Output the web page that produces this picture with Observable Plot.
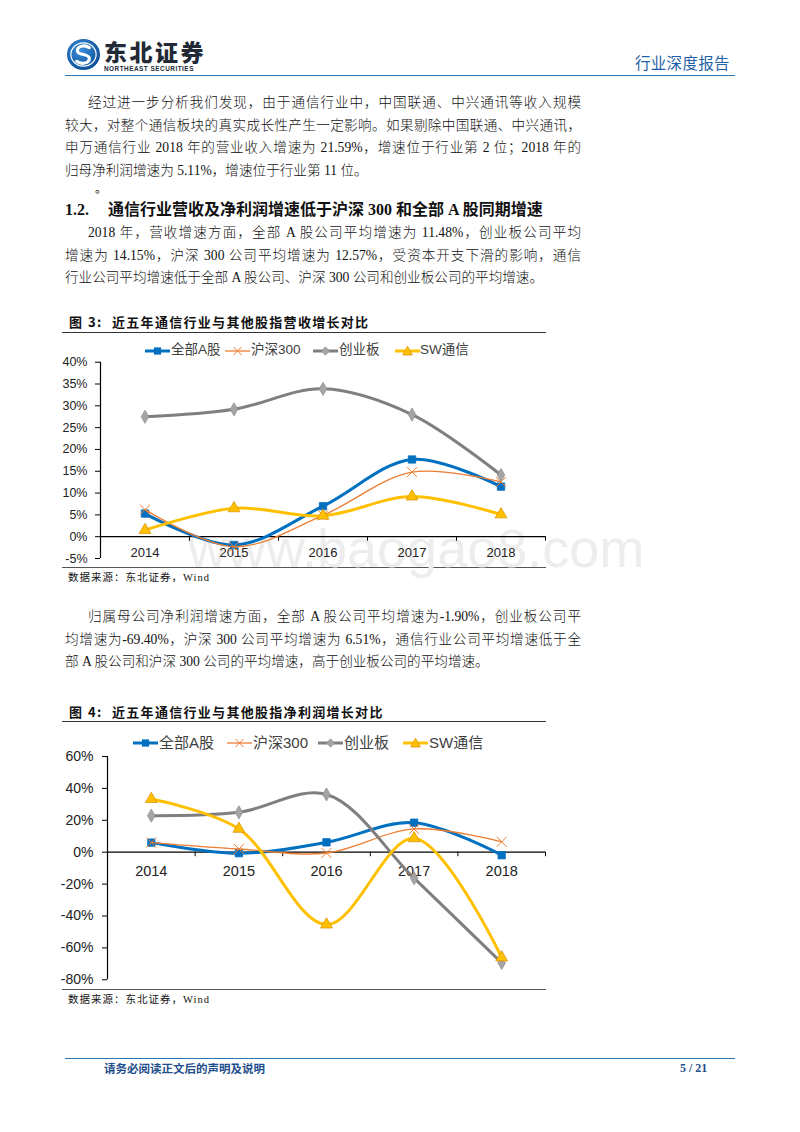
<!DOCTYPE html>
<html>
<head>
<meta charset="utf-8">
<script src="https://cdn.jsdelivr.net/npm/d3@7"></script>
<script src="https://cdn.jsdelivr.net/npm/@observablehq/plot@0.6"></script>
<style>
  html, body { margin: 0; padding: 0; background: #fff; }
  #page { position: relative; width: 800px; height: 1132px; overflow: hidden; background: #fff;
          font-family: "Liberation Serif", "Noto Sans CJK SC", serif; color: #111; }
  .abs { position: absolute; white-space: nowrap; }
  .line { position: absolute; font-size: 13.6px; line-height: 22px; height: 22px; white-space: nowrap; font-weight: 300; }
  .just { text-align: justify; text-align-last: justify; white-space: normal; overflow: hidden; }
  .figt { position: absolute; font-size: 13px; font-weight: bold; letter-spacing: 1.3px; line-height: 16px;
          font-family: "Noto Sans CJK SC", sans-serif; white-space: nowrap; }
  .cap { position: absolute; font-size: 10.5px; letter-spacing: 1px; line-height: 14px; white-space: nowrap;
         font-family: "Liberation Serif", "Noto Sans CJK SC", serif; }
  .rule { position: absolute; height: 0; }
  .leg { position: absolute; font-family: "Liberation Sans", "Noto Sans CJK SC", sans-serif; color: #404040; white-space: nowrap; }
  .chart { position: absolute; z-index: 2; }
  .wm { position: absolute; z-index: 1; font-family: "Liberation Sans", sans-serif; color: #ededed; font-size: 54px; white-space: nowrap; }
</style>
</head>
<body>
<div id="page"></div>
<script>
// ---------------- data ----------------
const years = ["2014", "2015", "2016", "2017", "2018"];
const seriesNames = ["全部A股", "沪深300", "创业板", "SW通信"];

// 图3: 营收增速 (%)
const revAll   = [5.3, -1.9, 7.0, 17.7, 11.48];
const revHS300 = [6.2, -2.3, 4.9, 14.8, 12.57];
const revGEM   = [27.5, 29.2, 33.9, 28.0, 14.15];
const revSW    = [1.5, 6.5, 4.8, 9.2, 5.1];
const revTicks = [-5, 0, 5, 10, 15, 20, 25, 30, 35, 40];

// 图4: 净利润增速 (%)
const profAll   = [6.0, -0.6, 6.2, 18.5, -1.9];
const profHS300 = [6.0, 2.0, -0.5, 14.6, 6.51];
const profGEM   = [22.9, 25.0, 36.2, -16.3, -69.4];
const profSW    = [33.3, 14.6, -45.4, 8.7, -66.0];
const profTicks = [-80, -60, -40, -20, 0, 20, 40, 60];

// ---------------- styles ----------------
const seriesStyle = [
  {stroke: "#0070C0", width: 3,   symbol: "square",  r: 4.2, fill: "#0070C0", mstroke: "#0070C0"},
  {stroke: "#ED7D31", width: 1.3, symbol: "times",   r: 4.6, fill: "none",    mstroke: "#ED7D31"},
  {stroke: "#7F7F7F", width: 3,   symbol: "diamond", r: 4.0, fill: "#A5A5A5", mstroke: "#8C8C8C"},
  {stroke: "#FFC000", width: 3,   symbol: "triangle",r: 4.4, fill: "#FFC000", mstroke: "#D98E00"}
];

const page = document.getElementById("page");
function add(html) { page.insertAdjacentHTML("beforeend", html); }

// ---------------- header ----------------
add(`<svg class="abs" style="left:66px;top:38px" width="35" height="33" viewBox="0 0 36 34">
  <defs><radialGradient id="lg" cx="40%" cy="35%" r="70%"><stop offset="0" stop-color="#3b8fd9"/><stop offset="1" stop-color="#0b4c96"/></radialGradient></defs>
  <ellipse cx="18" cy="17" rx="17" ry="16" fill="url(#lg)"/>
  <ellipse cx="18" cy="17" rx="13" ry="12" fill="none" stroke="#fff" stroke-width="1.2"/>
  <path d="M24 10 C 19 6, 10 9, 12 14 C 13 18, 24 16, 24 21 C 24 26, 16 28, 11 24" stroke="#fff" stroke-width="3.2" fill="none" stroke-linecap="round"/>
</svg>`);
add(`<div class="abs" style="left:104px;top:38px;font-family:'Noto Sans CJK SC',sans-serif;font-weight:900;font-size:23px;letter-spacing:2.5px;line-height:26px;color:#222a36">东北证券</div>`);
add(`<div class="abs" style="left:104px;top:65px;font-family:'Liberation Sans',sans-serif;font-weight:bold;font-size:6.4px;letter-spacing:0.5px;line-height:7px;color:#222a36">NORTHEAST SECURITIES</div>`);
add(`<div class="abs" style="left:635px;top:52px;font-family:'Noto Sans CJK SC',sans-serif;font-size:15.5px;line-height:20px;color:#1F5FA8;letter-spacing:0.3px">行业深度报告</div>`);
add(`<div class="rule" style="left:65px;top:75px;width:670px;border-top:1.6px solid #2E75B6"></div>`);

// ---------------- body text ----------------
function line(text, y, left, right, justify) {
  const w = right - left;
  add(`<div class="line${justify ? " just" : ""}" style="left:${left}px;top:${y - 11}px;width:${w}px">${text}</div>`);
}
line("经过进一步分析我们发现，由于通信行业中，中国联通、中兴通讯等收入规模", 103, 88, 581, true);
line("较大，对整个通信板块的真实成长性产生一定影响。如果剔除中国联通、中兴通讯，", 125.5, 65, 581, true);
line("申万通信行业 2018 年的营业收入增速为 21.59%，增速位于行业第 2 位；2018 年的", 148, 65, 581, true);
line("归母净利润增速为 5.11%，增速位于行业第 11 位。", 170.5, 65, 581, false);
add(`<div class="abs" style="left:95px;top:181px;font-size:12px;line-height:14px;font-family:'Noto Sans CJK SC'">。</div>`);

add(`<div class="abs" style="left:65px;top:200px;font-size:16px;font-weight:bold;line-height:20px;font-family:'Liberation Serif',serif">1.2.</div>`);
add(`<div class="abs" style="left:108px;top:200px;font-size:16px;font-weight:bold;line-height:20px;font-family:'Liberation Serif','Noto Sans CJK SC',serif">通信行业营收及净利润增速低于沪深 300 和全部 A 股同期增速</div>`);

line("2018 年，营收增速方面，全部 A 股公司平均增速为 11.48%，创业板公司平均", 233, 88, 581, true);
line("增速为 14.15%，沪深 300 公司平均增速为 12.57%，受资本开支下滑的影响，通信", 255.5, 65, 581, true);
line("行业公司平均增速低于全部 A 股公司、沪深 300 公司和创业板公司的平均增速。", 278, 65, 581, false);

line("归属母公司净利润增速方面，全部 A 股公司平均增速为-1.90%，创业板公司平", 617, 88, 581, true);
line("均增速为-69.40%，沪深 300 公司平均增速为 6.51%，通信行业公司平均增速低于全", 639.5, 65, 581, true);
line("部 A 股公司和沪深 300 公司的平均增速，高于创业板公司的平均增速。", 662, 65, 581, false);

// ---------------- figure frames ----------------
function figFrame(num, title, titleY, topRuleY, bottomRuleY, capY) {
  add(`<div class="figt" style="left:69px;top:${titleY - 8}px">图</div>`);
  add(`<div class="figt" style="left:88px;top:${titleY - 8}px">${num}:</div>`);
  add(`<div class="figt" style="left:112px;top:${titleY - 8}px">${title}</div>`);
  add(`<div class="rule" style="left:62px;top:${topRuleY}px;width:484px;border-top:1.2px solid #333"></div>`);
  add(`<div class="rule" style="left:62px;top:${bottomRuleY}px;width:484px;border-top:1.2px solid #555"></div>`);
  add(`<div class="cap" style="left:68px;top:${capY - 7}px">数据来源：东北证券，Wind</div>`);
}
figFrame(3, "近五年通信行业与其他股指营收增长对比", 322, 331.5, 566.5, 578);
figFrame(4, "近五年通信行业与其他股指净利润增长对比", 712, 720.5, 988.5, 1000);

// ---------------- legends ----------------
function swatch(st) {
  let m = "";
  if (st.symbol === "square") m = `<rect x="${12.5 - 3.6}" y="${6 - 3.6}" width="7.2" height="7.2" fill="${st.fill}"/>`;
  if (st.symbol === "times") m = `<path d="M8.5 2 L16.5 10 M16.5 2 L8.5 10" stroke="${st.mstroke}" stroke-width="1"/>`;
  if (st.symbol === "diamond") m = `<path d="M12.5 1.8 L16.7 6 L12.5 10.2 L8.3 6Z" fill="${st.fill}" stroke="${st.mstroke}" stroke-width="0.6"/>`;
  if (st.symbol === "triangle") m = `<path d="M12.5 1.2 L17.3 10 L7.7 10Z" fill="${st.fill}" stroke="${st.mstroke}" stroke-width="0.7"/>`;
  return `<svg width="25" height="12" style="vertical-align:middle"><line x1="0" y1="6" x2="25" y2="6" stroke="${st.stroke}" stroke-width="${st.width}"/>${m}</svg>`;
}
function legend(y, lineXs, textXs, fontSize) {
  seriesNames.forEach((name, k) => {
    add(`<div class="leg" style="left:${lineXs[k]}px;top:${y - 6}px;line-height:12px">${swatch(seriesStyle[k])}</div>`);
    add(`<div class="leg" style="left:${textXs[k]}px;top:${y - fontSize * 0.7}px;font-size:${fontSize}px;line-height:${fontSize * 1.4}px">${name}</div>`);
  });
}
legend(350, [145, 225, 313, 395], [171, 251, 339, 420], 13.5);
legend(742, [133, 227, 318, 403], [159, 253, 344, 429], 15);

// watermark
add(`<div class="wm" style="left:188px;top:518px;line-height:60px">www.baogao8.com</div>`);

// ---------------- charts ----------------
function makeChart(values, cfg) {
  const xDomain = [-0.5, years.length - 0.5];
  const bounds = years.map((d, i) => i + 0.5);
  const marks = [
    Plot.ruleY([0], {stroke: "#000", strokeWidth: 1.3}),
    Plot.ruleX([xDomain[0]], {stroke: "#000", strokeWidth: 1.2}),
    Plot.ruleX(bounds, {y1: 0, y2: 0, insetBottom: -4.5, stroke: "#000", strokeWidth: 1}),
    Plot.axisY(cfg.ticks, {tickSize: 5, tickPadding: cfg.tickPadding, tickFormat: d => d + "%",
      fontSize: cfg.fontSize, color: "#000", fill: "#222", label: null}),
    Plot.text(years, {x: (d, i) => i, y: 0, dy: cfg.labelDy, fontSize: cfg.fontSize + 0.5, fill: "#222"})
  ];
  values.forEach((vals, k) => {
    const st = seriesStyle[k];
    const data = vals.map((v, i) => ({i, v}));
    marks.push(Plot.line(data, {x: "i", y: "v", stroke: st.stroke, strokeWidth: st.width, curve: "catmull-rom"}));
    marks.push(Plot.dot(data, {x: "i", y: "v", symbol: st.symbol, r: st.r, fill: st.fill, stroke: st.mstroke,
      strokeWidth: st.symbol === "times" ? 1 : 0.7}));
  });
  const svg = Plot.plot({
    width: cfg.width, height: cfg.height,
    marginTop: cfg.mTop, marginBottom: cfg.mBottom, marginLeft: cfg.mLeft, marginRight: cfg.mRight,
    x: {type: "linear", domain: xDomain, axis: null},
    y: {domain: cfg.domain},
    style: {fontFamily: "'Liberation Sans', 'Noto Sans CJK SC', sans-serif", background: "transparent", overflow: "visible"},
    marks
  });
  svg.classList.add("chart");
  svg.style.left = cfg.left + "px";
  svg.style.top = cfg.top + "px";
  page.appendChild(svg);
}

makeChart([revAll, revHS300, revGEM, revSW], {
  left: 55, top: 355, width: 500, height: 211,
  mTop: 6.7, mBottom: 8, mLeft: 45, mRight: 10,
  domain: [-5, 40], ticks: revTicks, tickPadding: 8, fontSize: 12.5, labelDy: 16.5
});
makeChart([profAll, profHS300, profGEM, profSW], {
  left: 55, top: 748, width: 500, height: 239,
  mTop: 8, mBottom: 7.7, mLeft: 52, mRight: 10,
  domain: [-80, 60], ticks: profTicks, tickPadding: 9, fontSize: 14, labelDy: 19
});

// ---------------- footer ----------------
add(`<div class="rule" style="left:65px;top:1058px;width:670px;border-top:1.6px solid #2E75B6"></div>`);
add(`<div class="abs" style="left:104px;top:1061px;font-family:'Noto Sans CJK SC',sans-serif;font-weight:bold;font-size:11.5px;line-height:14px;color:#1F4E8C">请务必阅读正文后的声明及说明</div>`);
add(`<div class="abs" style="left:680px;top:1061px;font-family:'Liberation Serif',serif;font-weight:bold;font-size:12px;line-height:14px;color:#1F4E8C">5 / 21</div>`);
</script>
</body>
</html>
